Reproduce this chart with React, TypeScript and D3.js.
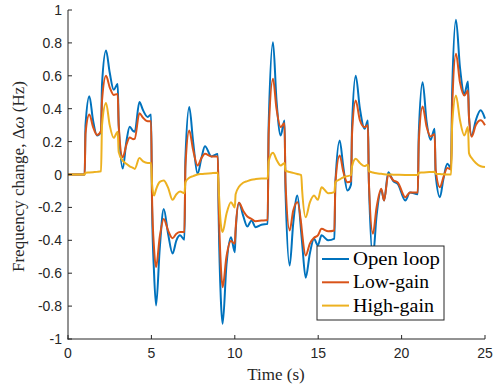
import React from "react";
import * as d3 from "d3";

// shared time grid (s)
const time = [
  0, 1.0, 1.05, 1.28, 1.5, 1.74, 1.98, 2.04, 2.28, 2.5, 2.74, 2.98, 3.04, 3.28, 3.5, 3.7, 3.9, 4.0, 4.28, 4.5,
  4.78, 4.98, 5.04, 5.16, 5.28, 5.5, 5.74, 6.0, 6.27, 6.5, 6.72, 6.98, 7.04, 7.27, 7.5, 7.77, 8.0, 8.21, 8.6, 8.98,
  9.04, 9.16, 9.27, 9.5, 9.77, 10.0, 10.05, 10.25, 10.5, 10.75, 11.0, 11.25, 11.6, 11.97, 12.03, 12.29, 12.5, 12.75, 12.98, 13.04,
  13.29, 13.5, 13.75, 13.98, 14.04, 14.25, 14.5, 14.75, 14.98, 15.2, 15.6, 15.97, 16.03, 16.29, 16.5, 16.75, 16.97, 17.03, 17.25, 17.5,
  17.78, 17.98, 18.04, 18.28, 18.5, 18.78, 18.95, 19.2, 19.5, 19.78, 20.22, 20.5, 20.97, 21.03, 21.26, 21.5, 21.74, 21.98, 22.04, 22.3,
  22.5, 22.74, 22.97, 23.03, 23.26, 23.5, 23.76, 23.98, 24.04, 24.2, 24.45, 24.74, 25,
];

const openLoop = [
  0, 0, 0.3, 0.476, 0.33, 0.237, 0.26, 0.55, 0.754, 0.62, 0.515, 0.55, 0.3, 0.036, 0.2, 0.29, 0.265, 0.26, 0.44, 0.39,
  0.35, 0.365, -0.2, -0.6, -0.796, -0.45, -0.209, -0.36, -0.48, -0.4, -0.37, -0.396, 0.1, 0.41, 0.2, 0.004, 0.1, 0.172, 0.11, 0.125,
  -0.3, -0.75, -0.908, -0.55, -0.381, -0.472, -0.35, -0.172, -0.25, -0.316, -0.28, -0.32, -0.305, -0.3, 0.3, 0.804, 0.45, 0.237, 0.328, -0.1,
  -0.553, -0.3, -0.128, -0.35, -0.42, -0.628, -0.48, -0.391, -0.43, -0.37, -0.4, -0.39, -0.05, 0.207, 0.05, -0.097, -0.06, 0.3, 0.6, 0.4,
  0.278, 0.328, -0.05, -0.5, -0.25, -0.093, -0.158, 0.014, -0.04, -0.058, -0.158, -0.11, -0.12, 0.25, 0.561, 0.32, 0.211, 0.278, 0.0, -0.138,
  -0.03, 0.065, 0.04, 0.5, 0.94, 0.65, 0.49, 0.565, 0.35, 0.237, 0.33, 0.39, 0.34,
];

const lowGain = [
  0, 0, 0.25, 0.365, 0.29, 0.24, 0.265, 0.45, 0.6, 0.53, 0.484, 0.49, 0.3, 0.105, 0.18, 0.225, 0.215, 0.217, 0.373, 0.345,
  0.324, 0.324, -0.15, -0.45, -0.563, -0.38, -0.27, -0.34, -0.387, -0.36, -0.35, -0.35, 0.05, 0.267, 0.15, 0.055, 0.1, 0.126, 0.11, 0.11,
  -0.2, -0.55, -0.685, -0.5, -0.405, -0.42, -0.33, -0.172, -0.22, -0.255, -0.27, -0.284, -0.28, -0.276, 0.25, 0.582, 0.4, 0.288, 0.312, -0.05,
  -0.34, -0.22, -0.168, -0.3, -0.36, -0.492, -0.42, -0.385, -0.37, -0.33, -0.345, -0.34, -0.05, 0.116, 0.02, -0.047, -0.04, 0.25, 0.45, 0.33,
  0.288, 0.3, -0.05, -0.36, -0.2, -0.087, -0.158, 0.0, -0.035, -0.05, -0.138, -0.11, -0.11, 0.2, 0.413, 0.29, 0.231, 0.245, 0.03, -0.077,
  -0.02, 0.04, 0.03, 0.4, 0.734, 0.56, 0.48, 0.51, 0.35, 0.23, 0.3, 0.33, 0.3,
];

const highGain = [
  0, 0, 0.01, 0.012, 0.014, 0.016, 0.02, 0.3, 0.434, 0.3, 0.223, 0.26, 0.136, 0.084, 0.065, 0.05, 0.04, 0.034, 0.1, 0.08,
  0.07, 0.07, -0.06, -0.128, -0.09, -0.045, -0.036, -0.08, -0.154, -0.12, -0.104, -0.114, -0.047, -0.02, -0.01, 0.0, 0.003, 0.005, 0.008, 0.01,
  -0.1, -0.3, -0.35, -0.24, -0.168, -0.2, -0.12, -0.075, -0.05, -0.04, -0.032, -0.028, -0.025, -0.024, 0.08, 0.132, 0.09, 0.055, 0.07, 0.023,
  0.015, 0.01, 0.003, -0.004, -0.1, -0.26, -0.17, -0.128, -0.154, -0.077, -0.114, -0.107, -0.047, -0.03, -0.017, -0.01, -0.003, 0.05, 0.095, 0.07,
  0.051, 0.06, 0.02, 0.012, 0.007, 0.004, 0.002, 0.0, -0.001, -0.002, -0.003, -0.003, -0.003, 0.01, 0.012, 0.014, 0.015, 0.016, 0.005, 0.003,
  0.001, 0.0, 0.0, 0.3, 0.48, 0.33, 0.237, 0.288, 0.13, 0.1, 0.07, 0.05, 0.045,
];

const seriesNames = ["Open loop", "Low-gain", "High-gain"];
const seriesValues = [openLoop, lowGain, highGain];
const colors = ["#0072BD", "#D95319", "#EDB120"];

const xTicks = [0, 5, 10, 15, 20, 25];
const yTicks = [-1, -0.8, -0.6, -0.4, -0.2, 0, 0.2, 0.4, 0.6, 0.8, 1];

const W = 495;
const H = 387;

export default function App() {
  const x = d3.scaleLinear().domain([0, 25]).range([68, 485]);
  const y = d3.scaleLinear().domain([-1, 1]).range([339, 10]);

  const line = d3
    .line<number>()
    .x((_, i) => x(time[i]))
    .y((d) => y(d))
    .curve(d3.curveMonotoneX);

  const axisColor = "#262626";
  const tickFont = "'Liberation Sans', Arial, sans-serif";
  const serif = "'Liberation Serif', 'Times New Roman', serif";

  const legX = 317;
  const legY = 246;
  const legTextW = [87, 76, 81];

  return (
    <svg width={W} height={H} style={{ position: "absolute", left: 0, top: 0, background: "#fff" }}>
      {/* series */}
      {seriesValues.map((vals, k) => (
        <path key={k} d={line(vals) ?? ""} fill="none" stroke={colors[k]} strokeWidth={2} strokeLinejoin="round" />
      ))}

      {/* axes */}
      <g stroke={axisColor} strokeWidth={1} fill="none">
        <line x1={x(0)} x2={x(0)} y1={y(1)} y2={y(-1) + 0.5} />
        <line x1={x(0) - 0.5} x2={x(25)} y1={y(-1)} y2={y(-1)} />
        {xTicks.map((t) => (
          <line key={t} x1={x(t)} x2={x(t)} y1={y(-1)} y2={y(-1) - 4} />
        ))}
        {yTicks.map((t) => (
          <line key={t} x1={x(0)} x2={x(0) + 4} y1={y(t)} y2={y(t)} />
        ))}
      </g>
      <g fill={axisColor} fontFamily={tickFont} fontSize={14}>
        {xTicks.map((t) => (
          <text key={t} x={x(t)} y={y(-1) + 19} textAnchor="middle">
            {t}
          </text>
        ))}
        {yTicks.map((t) => (
          <text key={t} x={x(0) - 6} y={y(t) + 5} textAnchor="end">
            {d3.format("")(+t.toFixed(1)).replace("−", "-")}
          </text>
        ))}
      </g>

      {/* axis titles */}
      <text x={276} y={380} textAnchor="middle" fontFamily={serif} fontSize={17} fill={axisColor}>
        Time (s)
      </text>
      <text
        transform={`translate(24, ${y(0) + 2}) rotate(-90)`}
        textAnchor="middle"
        fontFamily={serif}
        fontSize={17}
        fill={axisColor}
      >
        Frequency change, Δ<tspan fontStyle="italic">ω</tspan> (Hz)
      </text>

      {/* legend */}
      <rect x={legX} y={legY} width={127} height={74} fill="#fff" stroke={axisColor} strokeWidth={1} />
      {seriesNames.map((name, k) => (
        <g key={name}>
          <line
            x1={legX + 5}
            x2={legX + 32}
            y1={legY + 13 + k * 23.3}
            y2={legY + 13 + k * 23.3}
            stroke={colors[k]}
            strokeWidth={2}
          />
          <text
            x={legX + 36}
            y={legY + 19 + k * 23.3}
            fontFamily={serif}
            fontSize={18}
            fill="#000"
            textLength={legTextW[k]}
            lengthAdjust="spacingAndGlyphs"
          >
            {name}
          </text>
        </g>
      ))}
    </svg>
  );
}
